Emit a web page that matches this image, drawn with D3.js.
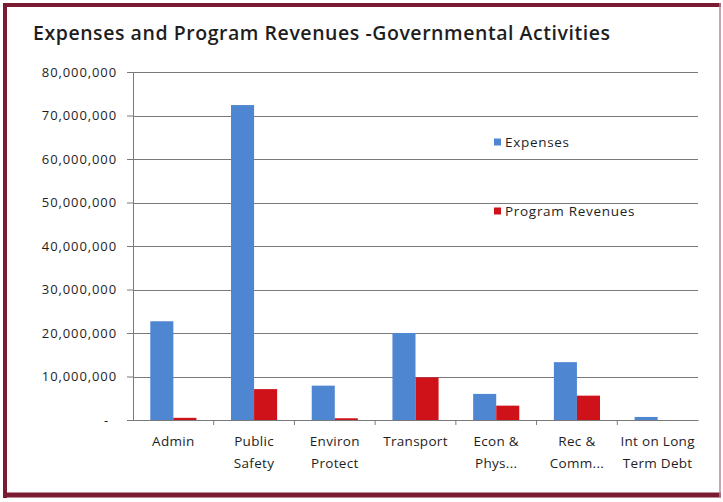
<!DOCTYPE html>
<html>
<head>
<meta charset="utf-8">
<script src="https://cdn.jsdelivr.net/npm/d3@7"></script>
<style>
  html, body { margin: 0; padding: 0; background: #ffffff; }
  svg { display: block; }
  text { font-family: "Open Sans", "Lato", sans-serif; fill: #1e1e1e; }
</style>
</head>
<body>
<svg id="chart" width="723" height="502"></svg>
<script>
// Governmental activities: expenses vs. program revenues by function
const categories = ["Admin", "Public Safety", "Environ Protect", "Transport", "Econ & Phys...", "Rec & Comm...", "Int on Long Term Debt"];
const categoryLines = [["Admin"], ["Public", "Safety"], ["Environ", "Protect"], ["Transport"], ["Econ &", "Phys..."], ["Rec &", "Comm..."], ["Int on Long", "Term Debt"]];
const seriesNames = ["Expenses", "Program Revenues"];
const expenses = [22700000, 72400000, 7900000, 20000000, 6000000, 13300000, 700000];
const programRevenues = [500000, 7100000, 400000, 9800000, 3300000, 5600000, 0];
const yTicks = [0, 10000000, 20000000, 30000000, 40000000, 50000000, 60000000, 70000000, 80000000];
const titleText = "Expenses and Program Revenues -Governmental Activities";

const colors = { "Expenses": "#4f86d2", "Program Revenues": "#cf1219" };
const seriesValues = { "Expenses": expenses, "Program Revenues": programRevenues };

const svg = d3.select("#chart");
const plot = { left: 133, right: 698, top: 72, bottom: 420 };

// Chart frame
svg.append("rect").attr("x", 0).attr("y", 0).attr("width", 723).attr("height", 502).attr("fill", "#ffffff");
const frame = svg.append("g").attr("fill", "none");
frame.append("line").attr("x1", 5).attr("x2", 5).attr("y1", 3).attr("y2", 498).attr("stroke", "#7a1a33").attr("stroke-width", 4);
frame.append("line").attr("x1", 3).attr("x2", 721).attr("y1", 5).attr("y2", 5).attr("stroke", "#7a1a33").attr("stroke-width", 4);
frame.append("line").attr("x1", 3).attr("x2", 721).attr("y1", 495).attr("y2", 495).attr("stroke", "#7a1a33").attr("stroke-width", 5);
frame.append("line").attr("x1", 720).attr("x2", 720).attr("y1", 3).attr("y2", 498).attr("stroke", "#b58a95").attr("stroke-width", 1.5);

// Title
svg.append("text")
  .attr("x", 33).attr("y", 40)
  .attr("font-size", 19.5).attr("font-weight", 600)
  .attr("textLength", 577)
  .attr("fill", "#1a1a1a")
  .text(titleText);

// Scales
const y = d3.scaleLinear().domain([0, 80000000]).range([plot.bottom, plot.top]);
const x = d3.scaleBand().domain(categories).range([plot.left, plot.right]).paddingInner(0).paddingOuter(0);
const xs = d3.scaleBand().domain(seriesNames).range([0, x.bandwidth()]).paddingInner(0).paddingOuter(0.75);

// Gridlines
svg.append("g")
  .selectAll("line")
  .data(yTicks.filter(d => d > 0))
  .join("line")
  .attr("x1", plot.left).attr("x2", plot.right)
  .attr("y1", d => Math.round(y(d)) + 0.5).attr("y2", d => Math.round(y(d)) + 0.5)
  .attr("stroke", "#7a7a7a").attr("stroke-width", 1);

// Y axis
const yAxis = d3.axisLeft(y)
  .tickValues(yTicks)
  .tickSize(6)
  .tickPadding(10)
  .tickFormat(d => d === 0 ? "-" : d3.format(",")(d));
const yG = svg.append("g").attr("transform", `translate(${plot.left},0)`).call(yAxis);
yG.select(".domain").attr("stroke", "#7a7a7a");
yG.selectAll(".tick line").attr("stroke", "#7a7a7a");
yG.selectAll(".tick text")
  .attr("font-family", "Open Sans, sans-serif")
  .attr("font-size", 13)
  .attr("letter-spacing", 0.9)
  .attr("fill", "#222222")
  .attr("dx", d => d === 0 ? -8 : 0);

// X axis
const xAxis = d3.axisBottom(x).tickSize(0).tickFormat("");
const xG = svg.append("g").attr("transform", `translate(0,${plot.bottom})`).call(xAxis);
xG.select(".domain").attr("stroke", "#7a7a7a");
xG.selectAll(".tick").remove();
// Category separator ticks
xG.selectAll(".sep")
  .data(categories.slice(1))
  .join("line")
  .attr("class", "sep")
  .attr("x1", d => x(d)).attr("x2", d => x(d))
  .attr("y1", 0).attr("y2", 5)
  .attr("stroke", "#7a7a7a");

// Category labels
const labels = svg.append("g");
categories.forEach((c, i) => {
  const t = labels.append("text")
    .attr("text-anchor", "middle")
    .attr("font-size", 13.5)
    .attr("letter-spacing", 0.3)
    .attr("fill", "#111111");
  categoryLines[i].forEach((line, j) => {
    t.append("tspan")
      .attr("x", x(c) + x.bandwidth() / 2)
      .attr("y", 446 + j * 22)
      .text(line);
  });
});

// Bars
seriesNames.forEach(s => {
  svg.append("g")
    .selectAll("rect")
    .data(categories.map((c, i) => ({ c, v: seriesValues[s][i] })))
    .join("rect")
    .attr("x", d => x(d.c) + xs(s))
    .attr("width", xs.bandwidth())
    .attr("y", d => y(d.v))
    .attr("height", d => y(0) - y(d.v))
    .attr("fill", colors[s]);
});

// Legend
const legendPos = [{ s: "Expenses", y: 142 }, { s: "Program Revenues", y: 211 }];
const legend = svg.append("g");
legendPos.forEach(p => {
  legend.append("rect")
    .attr("x", 494).attr("y", p.y - 3.5)
    .attr("width", 7).attr("height", 7)
    .attr("fill", colors[p.s]);
  legend.append("text")
    .attr("x", 505).attr("y", p.y)
    .attr("dy", "0.35em")
    .attr("font-size", 13.5)
    .attr("letter-spacing", 0.7)
    .attr("fill", "#222222")
    .text(p.s);
});
</script>
</body>
</html>
